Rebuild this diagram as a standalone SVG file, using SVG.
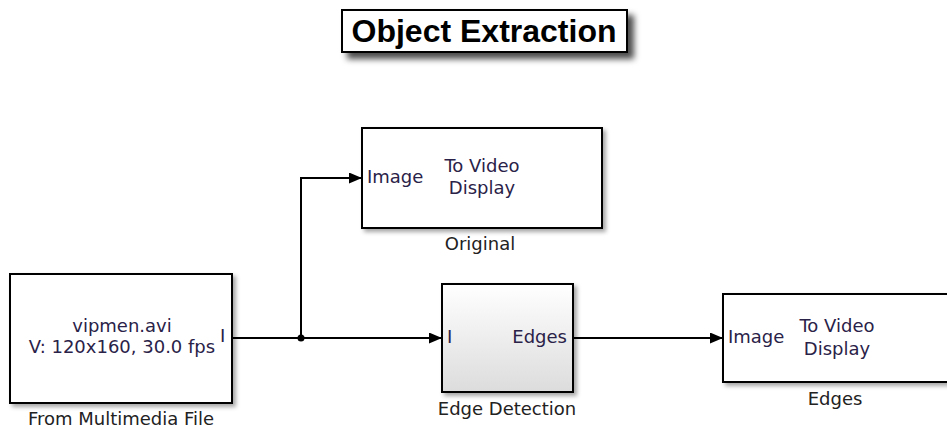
<svg xmlns="http://www.w3.org/2000/svg" width="947" height="430" viewBox="0 0 947 430">
  <defs>
    <filter id="shadow" x="-10%" y="-10%" width="130%" height="130%">
      <feDropShadow dx="3" dy="3" stdDeviation="2" flood-color="#000" flood-opacity="0.35"/>
    </filter>
    <filter id="titleShadow" x="-10%" y="-20%" width="130%" height="160%">
      <feDropShadow dx="6" dy="6" stdDeviation="3" flood-color="#000" flood-opacity="0.7"/>
    </filter>
    <linearGradient id="subsys" x1="0" y1="0" x2="0" y2="1">
      <stop offset="0" stop-color="#ffffff"/>
      <stop offset="1" stop-color="#dcdcdc"/>
    </linearGradient>
    <marker id="arrow" viewBox="0 0 13 11" refX="13" refY="5.5" markerWidth="13" markerHeight="11" markerUnits="userSpaceOnUse" orient="auto">
      <path d="M0,0 L13,5.5 L0,11 Z" fill="#000"/>
    </marker>
  </defs>
  <style>
    .block { fill: #fff; stroke: #000; stroke-width: 2; filter: url(#shadow); }
    .btxt { font-family: "DejaVu Sans", Verdana, sans-serif; font-size: 18px; fill: #2a2248; }
    .label { font-family: "DejaVu Sans", Verdana, sans-serif; font-size: 18px; fill: #222; text-anchor: middle; }
    .wire { fill: none; stroke: #000; stroke-width: 2; }
  </style>

  <rect width="947" height="430" fill="#fff"/>

  <!-- title annotation -->
  <g id="title">
    <rect x="342" y="10" width="285" height="42" fill="#fff" stroke="#000" stroke-width="2" filter="url(#titleShadow)"/>
    <text x="484" y="42" text-anchor="middle" font-family="'Liberation Sans', Arial, sans-serif" font-weight="bold" font-size="32" fill="#000">Object Extraction</text>
  </g>

  <!-- connectors -->
  <g id="connectors">
    <path class="wire" d="M232,338 H442" marker-end="url(#arrow)"/>
    <path class="wire" d="M301,338 V178 H362" marker-end="url(#arrow)"/>
    <path class="wire" d="M573,338 H723" marker-end="url(#arrow)"/>
    <circle cx="301" cy="338" r="3.5" fill="#000"/>
  </g>

  <g id="from-multimedia-file">
    <rect class="block" x="10" y="274" width="222" height="129"/>
    <text class="btxt" x="122" y="332" text-anchor="middle">vipmen.avi</text>
    <text class="btxt" x="122" y="353" text-anchor="middle">V: 120x160, 30.0 fps</text>
    <text class="btxt" x="220" y="342">I</text>
    <text class="label" x="121" y="425">From Multimedia File</text>
  </g>

  <g id="original">
    <rect class="block" x="362" y="128" width="240" height="100"/>
    <text class="btxt" x="367" y="183">Image</text>
    <text class="btxt" x="482" y="172" text-anchor="middle">To Video</text>
    <text class="btxt" x="482" y="194" text-anchor="middle">Display</text>
    <text class="label" x="480" y="250">Original</text>
  </g>

  <g id="edge-detection">
    <rect class="block" x="442" y="284" width="131" height="108" style="fill:url(#subsys)"/>
    <text class="btxt" x="447" y="343">I</text>
    <text class="btxt" x="567" y="343" text-anchor="end">Edges</text>
    <text class="label" x="507" y="415">Edge Detection</text>
  </g>

  <g id="edges">
    <rect class="block" x="723" y="294" width="240" height="88"/>
    <text class="btxt" x="728" y="343">Image</text>
    <text class="btxt" x="837" y="332" text-anchor="middle">To Video</text>
    <text class="btxt" x="837" y="355" text-anchor="middle">Display</text>
    <text class="label" x="835" y="405">Edges</text>
  </g>
</svg>
